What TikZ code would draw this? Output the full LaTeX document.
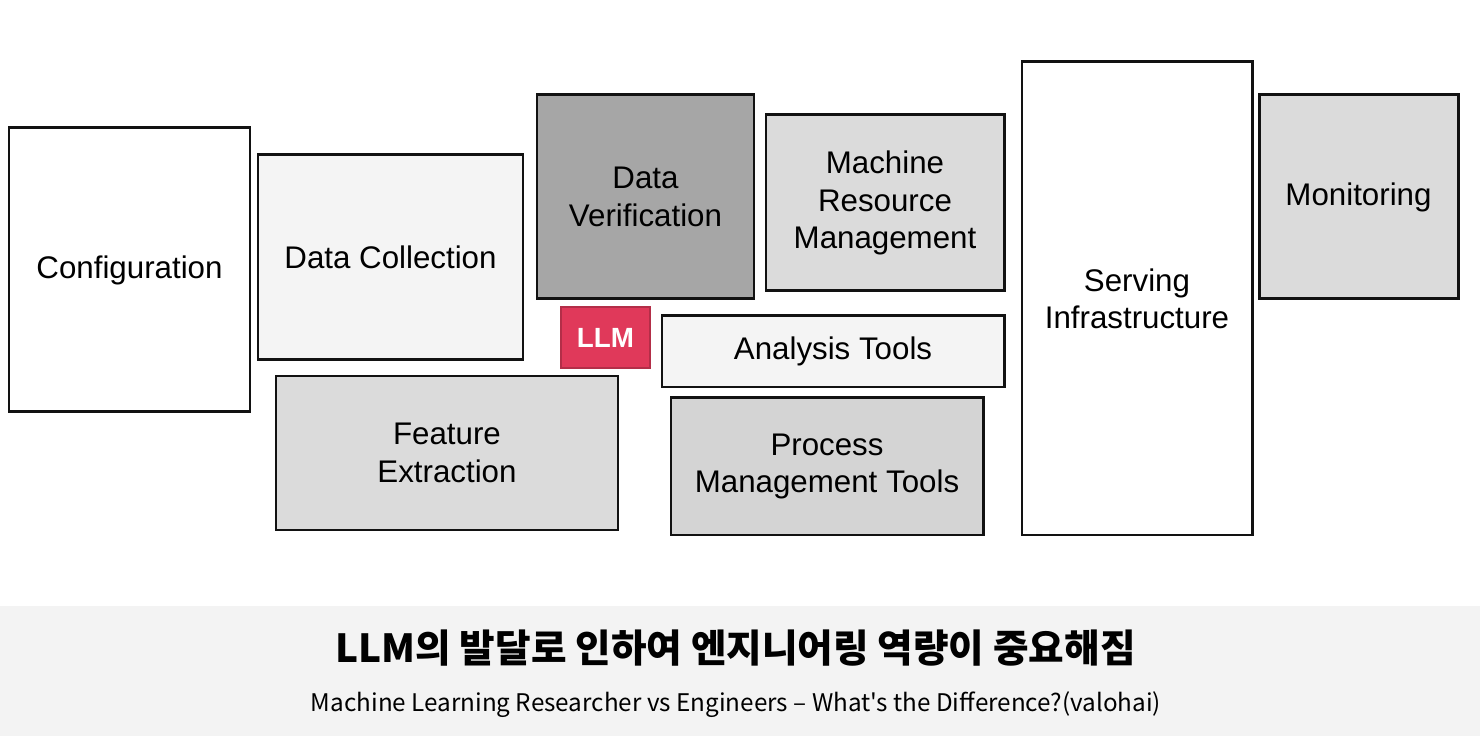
\documentclass[tikz,border=0pt]{standalone}
\usepackage{fontspec}
\setmainfont{Liberation Sans}
\newfontfamily\krfont{Noto Sans CJK KR}
\usetikzlibrary{positioning}

\definecolor{llmred}{HTML}{E0395A}
\definecolor{verifgray}{HTML}{A6A6A6}
\definecolor{midgray}{HTML}{DBDBDB}
\definecolor{procgray}{HTML}{D4D4D4}
\definecolor{lightgray}{HTML}{F4F4F4}
\definecolor{bandgray}{HTML}{F3F3F3}

\begin{document}
\begin{tikzpicture}[
  block/.style={draw=black!93, line width=0.85pt, rectangle, align=center,
    inner sep=0pt, font=\fontsize{8.9}{10.6}\selectfont}
]
  \useasboundingbox (0,0) rectangle (14.8,7.36);

  % Left column
  \node[block, fill=white, minimum width=2.41cm, minimum height=2.84cm] (config) at (1.295,4.66) {Configuration};
  \node[block, fill=lightgray, minimum width=2.65cm, minimum height=2.05cm] (collect) at (3.905,4.785) {Data Collection};
  \node[block, fill=midgray, minimum width=3.42cm, minimum height=1.54cm] (feature) at (4.47,2.83) {Feature\\Extraction};

  % Middle column
  \node[block, fill=verifgray, minimum width=2.17cm, minimum height=2.04cm] (verify) at (6.455,5.39) {Data\\Verification};
  \node[fill=llmred, draw=llmred!80!black, line width=0.3pt, text=white, inner sep=0pt,
    minimum width=0.89cm, minimum height=0.61cm, font=\fontsize{7.9}{9}\selectfont\bfseries] (llm) at (6.055,3.985) {LLM};
  \node[block, fill=midgray, minimum width=2.38cm, minimum height=1.76cm] (resource) at (8.85,5.33) {Machine\\Resource\\Management};
  \node[block, fill=lightgray, minimum width=3.42cm, minimum height=0.71cm] (analysis) at (8.33,3.845) {Analysis Tools};
  \node[block, fill=procgray, minimum width=3.12cm, minimum height=1.37cm] (process) at (8.27,2.695) {Process\\Management Tools};

  % Right column
  \node[block, fill=white, minimum width=2.30cm, minimum height=4.73cm] (serving) at (11.37,4.375) {Serving\\Infrastructure};
  \node[block, fill=midgray, minimum width=1.99cm, minimum height=2.04cm] (monitor) at (13.585,5.39) {Monitoring};

  % Caption band
  \fill[bandgray] (0,0) rectangle (14.8,1.30);
  \node[font=\krfont\bfseries\fontsize{11}{13}\selectfont] (title) at (7.355,0.88) {LLM의 발달로 인하여 엔지니어링 역량이 중요해짐};
  \node[font=\krfont\fontsize{6.9}{8}\selectfont] (source) at (7.36,0.31) {Machine Learning Researcher vs Engineers – What's the Difference?(valohai)};
\end{tikzpicture}
\end{document}
